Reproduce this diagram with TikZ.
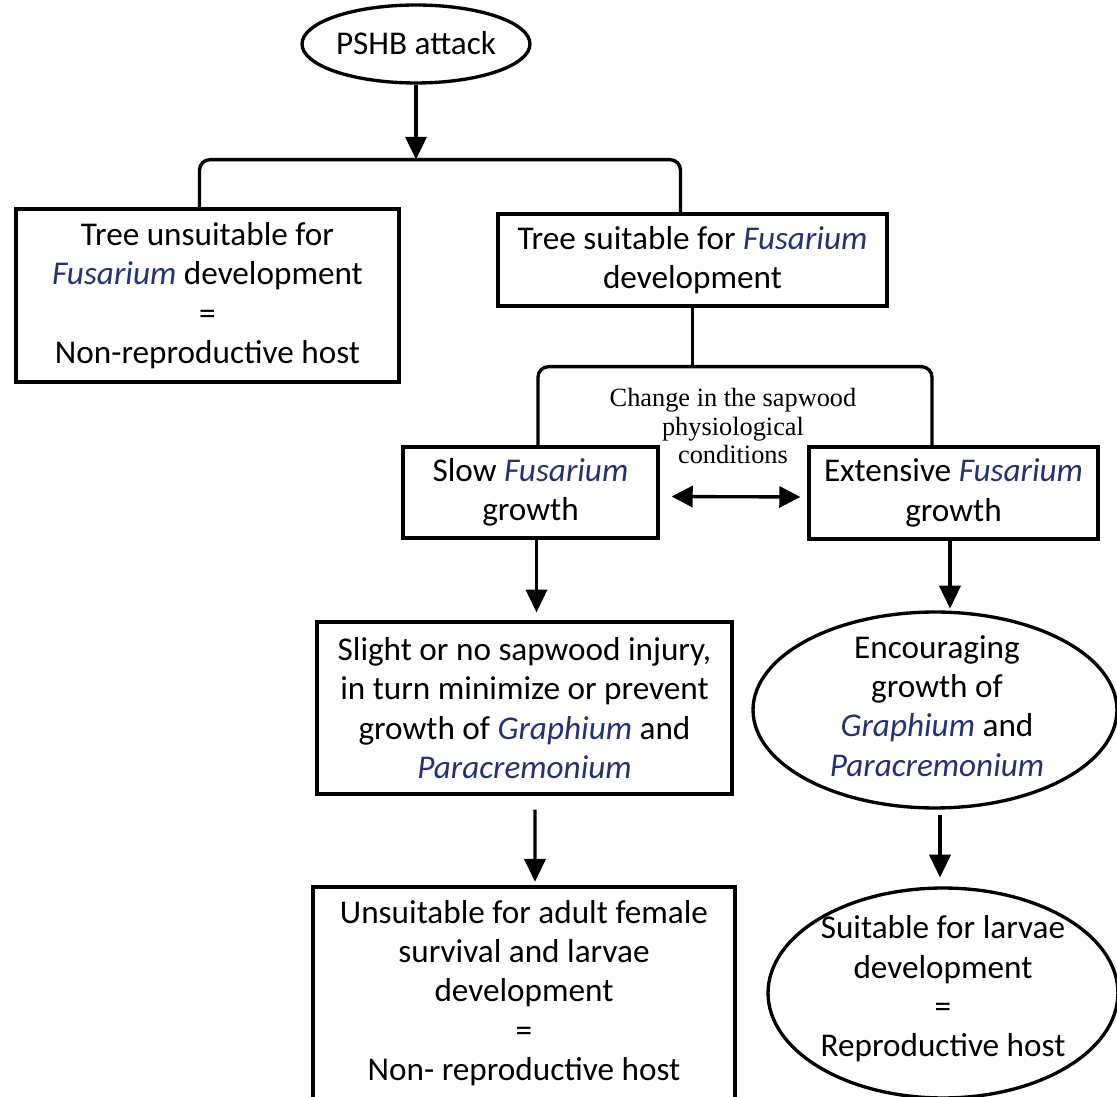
\documentclass[tikz,border=0pt]{standalone}
\usepackage{fontspec}
\setmainfont{Carlito}
\newfontfamily\serifA{Liberation Serif}
\usetikzlibrary{arrows.meta,calc,shapes.geometric}
\definecolor{fblue}{RGB}{35,50,115}
\newcommand{\gen}[1]{{\color{fblue}\itshape #1}}
\newcommand{\mainfs}{\fontsize{18.9pt}{22.4pt}\selectfont}
\newcommand{\chgfs}{\serifA\fontsize{15pt}{16.4pt}\selectfont}
\begin{document}
\begin{tikzpicture}[x=0.02cm,y=-0.02cm,
  box/.style={draw, line width=1.9pt, rectangle, align=center, inner sep=0pt, font=\mainfs},
  ell/.style={draw, line width=1.9pt, ellipse, inner sep=0pt},
  txt/.style={align=center, inner sep=0pt, font=\mainfs},
  conn/.style={line width=1.9pt},
  arr/.style={line width=1.9pt, -{Triangle[length=13pt,width=12pt]}},
  darr/.style={line width=1.9pt, {Triangle[length=12pt,width=12pt]}-{Triangle[length=12pt,width=12pt]}}
]
\useasboundingbox (0,0) rectangle (1117,1097);

% nodes
\node[ell, minimum width=4.56cm, minimum height=1.56cm] (pshb) at (416,44) {};
\node[txt] (pshbT) at (416,43) {PSHB attack};

\node[box, minimum width=7.66cm, minimum height=3.46cm] (ltree) at (207.5,295.5)
  {Tree unsuitable for\\ \gen{Fusarium} development\\ =\\ Non-reproductive host};
\node[box, minimum width=7.78cm, minimum height=1.84cm] (rtree) at (692.5,260)
  {Tree suitable for \gen{Fusarium}\\ development};

\node[box, minimum width=5.1cm, minimum height=1.82cm] (slow) at (530.5,492.5)
  {Slow \gen{Fusarium}\\ growth};
\node[box, minimum width=5.78cm, minimum height=1.84cm] (ext) at (953.5,493)
  {Extensive \gen{Fusarium}\\ growth};

\node[align=center, inner sep=0pt, font=\chgfs] (chg) at (733,426)
  {Change in the sapwood\\ physiological\\ conditions};

\node[box, minimum width=8.3cm, minimum height=3.44cm] (slight) at (524.5,708)
  {Slight or no sapwood injury,\\ in turn minimize or prevent\\ growth of \gen{Graphium} and\\ \gen{Paracremonium}};
\node[box, minimum width=8.44cm, minimum height=4.24cm] (unsuit) at (524,993)
  {Unsuitable for adult female\\ survival and larvae\\ development\\ =\\ Non- reproductive host};

\node[ell, minimum width=7.28cm, minimum height=3.92cm] (enc) at (935,710) {};
\node[txt] (encT) at (937,706) {Encouraging\\ growth of\\ \gen{Graphium} and\\ \gen{Paracremonium}};

\node[ell, minimum width=7.0cm, minimum height=4.2cm] (suit) at (943,993) {};
\node[txt] (suitT) at (943,989) {Suitable for larvae\\ development\\ =\\ Reproductive host};

% connectors
\coordinate (split1) at ($(pshb.south)+(0,75)$);
\draw[arr] (pshb.south) -- (split1);
\draw[conn, rounded corners=6pt] ($(ltree.north)+(-8,0)$) |- (split1) -| ($(rtree.north)+(-12,0)$);

\coordinate (split2) at ($(rtree.south)+(0,59)$);
\draw[conn] (rtree.south) -- (split2);
\draw[conn, rounded corners=6pt] ($(slow.north)+(7.5,0)$) |- (split2) -| ($(ext.north)+(-21.5,0)$);

\draw[darr] ($(slow.east)+(12,4)$) -- ($(ext.west)+(-7,4)$);

\draw[arr, shorten >=4.5pt] ($(slow.south)+(6,0)$) -- ($(slight.north)+(12,0)$);
\draw[arr, shorten <=8pt, shorten >=2pt] ($(slight.south)+(10.5,0)$) -- ($(unsuit.north)+(11,0)$);
\draw[arr, shorten >=1pt] ($(ext.south)+(-3.5,0)$) -- ($(enc.north)+(15,0)$);
\draw[arr, shorten <=3pt, shorten >=5pt] ($(enc.south)+(5,0)$) -- ($(suit.north)+(-3,0)$);
\end{tikzpicture}
\end{document}
